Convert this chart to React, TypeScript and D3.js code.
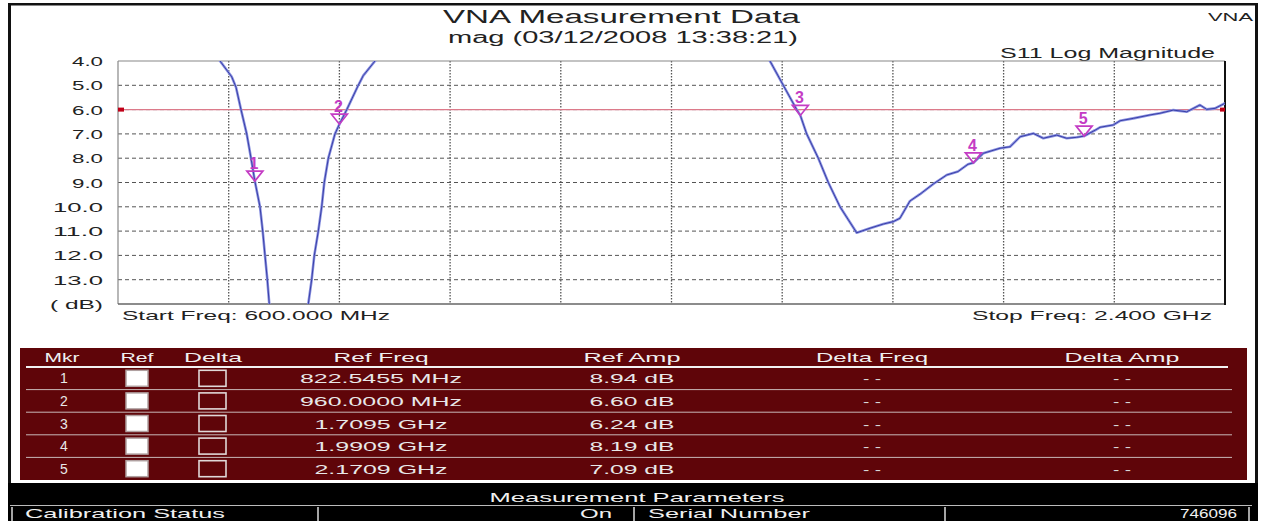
import React from "react";
import * as d3 from "d3";

// ---- Data ----
const freqMHz = [600, 700, 750, 765.9, 784.9, 791.9, 800.0, 809.3, 816.3, 822.5, 830.9, 835.3, 839.0, 842.8, 846.0, 876, 909.4, 914.9, 919.2, 925.7, 931.2, 935.4, 942.0, 952.8, 960.0, 972.0, 990.7, 998.8, 1017.9, 1040, 1300, 1500, 1640, 1660.1, 1681.8, 1703.6, 1709.5, 1719.8, 1738.7, 1755.0, 1774.0, 1801.1, 1822.8, 1844.4, 1860.6, 1871.5, 1887.8, 1904.1, 1925.7, 1947.5, 1965.8, 1982.1, 1990.9, 2006.9, 2034.1, 2050.4, 2066.7, 2088.3, 2104.6, 2126.4, 2142.6, 2158.9, 2170.9, 2188.6, 2196.7, 2218.4, 2229.3, 2250.9, 2278.0, 2294.3, 2315.9, 2337.7, 2359.3, 2370.2, 2383.7, 2400];
const s11dB = [0.8, 1.8, 3.2, 4.0, 4.65, 5.08, 6.0, 7.0, 8.0, 8.94, 10.0, 11.0, 12.0, 13.0, 14.0, 24, 14.0, 13.0, 12.0, 11.0, 10.0, 9.0, 8.0, 7.0, 6.6, 6.0, 5.0, 4.6, 4.0, 3.4, 2.0, 1.6, 3.4, 4.0, 5.0, 6.0, 6.24, 7.0, 8.0, 9.0, 10.0, 11.07, 10.88, 10.71, 10.61, 10.47, 9.76, 9.48, 9.06, 8.69, 8.55, 8.25, 8.19, 7.80, 7.59, 7.53, 7.12, 6.98, 7.18, 7.05, 7.18, 7.14, 7.09, 6.85, 6.73, 6.63, 6.46, 6.36, 6.22, 6.15, 6.02, 6.09, 5.81, 5.99, 5.95, 5.74];

const yTicks = [4, 5, 6, 7, 8, 9, 10, 11, 12, 13, 14];
const yTickLabels = ["4.0", "5.0", "6.0", "7.0", "8.0", "9.0", "10.0", "11.0", "12.0", "13.0", "( dB)"];
const xGrid = [600, 780, 960, 1140, 1320, 1500, 1680, 1860, 2040, 2220, 2400];
const refLevel = 6.0;

const markerIds = ["1", "2", "3", "4", "5"];
const markerFreq = [822.5455, 960.0, 1709.5, 1990.9, 2170.9];
const markerAmp = [8.94, 6.6, 6.24, 8.19, 7.09];
const markerFreqLabels = ["822.5455 MHz", "960.0000 MHz", "1.7095 GHz", "1.9909 GHz", "2.1709 GHz"];
const markerAmpLabels = ["8.94 dB", "6.60 dB", "6.24 dB", "8.19 dB", "7.09 dB"];
const tableHeaders = ["Mkr", "Ref", "Delta", "Ref Freq", "Ref Amp", "Delta Freq", "Delta Amp"];

const FONT = "'Liberation Sans', Arial, sans-serif";

type TP = { x: number; y: number; w?: number; anchor?: "start" | "middle" | "end"; size?: number; fill?: string; weight?: string | number; children: React.ReactNode };
const T = ({ x, y, w, anchor = "start", size = 13, fill = "#222", weight, children }: TP) => (
  <text x={x} y={y} fontFamily={FONT} fontSize={size} fill={fill} fontWeight={weight} textAnchor={anchor}
    {...(w ? { textLength: w, lengthAdjust: "spacingAndGlyphs" } : {})}>{children}</text>
);

export default function App() {
  const W = 1264, H = 521;
  const pl = 118, pr = 1225, pt = 61, pb = 304;
  const x = d3.scaleLinear().domain([600, 2400]).range([pl, pr]);
  const y = d3.scaleLinear().domain([4, 14]).range([pt, pb]);
  const line = d3.line<number>().x((_, i) => x(freqMHz[i])).y((v) => y(v));
  const path = line(s11dB) || "";

  // table layout
  const tl = 20, tr = 1247, tt = 348, tb = 480;
  const headerBottom = 367;
  const rowH = (tb - headerBottom) / 5;
  const colMkr = 62, colRef = 137, colDelta = 213, colRF = 381, colRA = 632, colDF = 872, colDA = 1122;
  const headerW = [35, 33, 58, 95, 97, 112, 115];
  const headerX = [colMkr, colRef, colDelta, colRF, colRA, colDF, colDA];

  return (
    <svg width={W} height={H} style={{ position: "absolute", left: 0, top: 0, background: "#fff" }}>
      <defs>
        <clipPath id="plotclip"><rect x={pl} y={pt} width={pr - pl} height={pb - pt} /></clipPath>
      </defs>
      <rect x={0} y={0} width={W} height={H} fill="#fff" />
      {/* outer frame */}
      <rect x={8} y={3} width={1250} height={2.5} fill="#111" />
      <rect x={8} y={3} width={3} height={H - 3} fill="#111" />
      <rect x={1255} y={3} width={3} height={H - 3} fill="#111" />

      {/* titles */}
      <T x={443} y={23} w={357} size={18}>VNA Measurement Data</T>
      <T x={448} y={43} w={350} size={16}>mag (03/12/2008 13:38:21)</T>
      <T x={1208} y={21} w={45} size={11}>VNA</T>
      <T x={1000} y={58} w={215} size={14}>S11 Log Magnitude</T>

      {/* grid */}
      {yTicks.slice(1, -1).map((t) => (
        <line key={"h" + t} x1={pl} x2={pr} y1={y(t)} y2={y(t)} stroke="#555" strokeWidth={1} strokeDasharray="4,3" />
      ))}
      {xGrid.slice(1, -1).map((f) => (
        <line key={"v" + f} x1={x(f)} x2={x(f)} y1={pt} y2={pb} stroke="#555" strokeWidth={1.3} strokeDasharray="1.5,1.5" />
      ))}
      {/* plot border */}
      <line x1={pl} x2={pr} y1={pt} y2={pt} stroke="#888" strokeWidth={1.2} />
      <line x1={pl} x2={pl} y1={pt} y2={pb} stroke="#888" strokeWidth={1.2} />
      <line x1={pl} x2={pr} y1={pb} y2={pb} stroke="#666" strokeWidth={1.5} />
      <line x1={pr} x2={pr} y1={pt} y2={pb + 1} stroke="#111" strokeWidth={2} />

      {/* y labels */}
      {yTicks.map((t, i) => (
        <T key={"yl" + t} x={103} y={y(t) + 5} anchor="end" w={yTickLabels[i].length === 3 ? 31 : yTickLabels[i].length === 4 ? 50 : 53} size={13}>
          {yTickLabels[i]}
        </T>
      ))}

      {/* reference line */}
      <line x1={pl} x2={pr} y1={y(refLevel)} y2={y(refLevel)} stroke="#dc7a8a" strokeWidth={1.2} />
      <rect x={pl} y={y(refLevel) - 2} width={6} height={4} fill="#c00018" />
      <rect x={pr - 5} y={y(refLevel) - 2} width={5} height={4} fill="#c00018" />

      {/* trace */}
      <g clipPath="url(#plotclip)">
        <path d={path} fill="none" stroke="#8a92e0" strokeWidth={2.6} strokeLinejoin="round" />
        <path d={path} fill="none" stroke="#3a3fa8" strokeWidth={1} strokeLinejoin="round" />
      </g>

      {/* markers */}
      {markerIds.map((id, i) => {
        const mx = x(markerFreq[i]);
        const my = y(markerAmp[i]);
        return (
          <g key={"m" + id}>
            <path d={`M${mx - 8},${my - 10} L${mx + 8},${my - 10} L${mx},${my} Z`} fill="none" stroke="#c43cc4" strokeWidth={1.7} />
            <T x={mx - 1} y={my - 12} anchor="middle" size={16} fill="#c43cc4" weight="bold">{id}</T>
          </g>
        );
      })}

      <T x={122} y={320} w={268} size={13}>Start Freq: 600.000 MHz</T>
      <T x={1212} y={320} w={240} anchor="end" size={13}>Stop Freq: 2.400 GHz</T>

      {/* marker table */}
      <rect x={tl} y={tt} width={tr - tl} height={tb - tt} fill="#5f0509" />
      <line x1={26} x2={1228} y1={headerBottom} y2={headerBottom} stroke="#f2f2f2" strokeWidth={2} />
      {headerX.map((cx, i) => (
        <T key={"th" + i} x={cx} y={362} anchor="middle" w={headerW[i]} size={13} fill="#f0f0f0">{tableHeaders[i]}</T>
      ))}
      {markerIds.map((id, i) => {
        const r0 = headerBottom + rowH * i;
        const cy = r0 + rowH / 2;
        return (
          <g key={"row" + id}>
            {i < 4 && <line x1={26} x2={1232} y1={r0 + rowH} y2={r0 + rowH} stroke="#c8b8b8" strokeWidth={1} />}
            <T x={colMkr + 2} y={cy + 5} anchor="middle" size={14} fill="#e8e8e8">{id}</T>
            <rect x={126} y={cy - 8} width={22} height={16} fill="#ffffff" stroke="#b0a0a0" strokeWidth={1.5} />
            <rect x={199} y={cy - 8} width={27} height={16} fill="none" stroke="#e0d8d8" strokeWidth={1.6} />
            <T x={colRF} y={cy + 5} anchor="middle" w={markerFreqLabels[i].length > 10 ? 162 : 133} size={13} fill="#e8e8e8">{markerFreqLabels[i]}</T>
            <T x={colRA} y={cy + 5} anchor="middle" w={85} size={13} fill="#e8e8e8">{markerAmpLabels[i]}</T>
            <T x={colDF} y={cy + 5} anchor="middle" w={18} size={13} fill="#d8d8d8">- -</T>
            <T x={colDA} y={cy + 5} anchor="middle" w={18} size={13} fill="#d8d8d8">- -</T>
          </g>
        );
      })}

      {/* measurement parameters band */}
      <rect x={8} y={483} width={1250} height={H - 483} fill="#000" />
      <T x={637} y={502} anchor="middle" w={295} size={13} fill="#f0f0f0">Measurement Parameters</T>
      <line x1={10} x2={1252} y1={505.5} y2={505.5} stroke="#bbb" strokeWidth={1} />
      {[12, 318, 634, 945, 1249].map((vx) => (
        <line key={"vb" + vx} x1={vx} x2={vx} y1={507} y2={521} stroke="#ddd" strokeWidth={1.5} />
      ))}
      <T x={25} y={518} w={200} size={13} fill="#f0f0f0">Calibration Status</T>
      <T x={612} y={518} anchor="end" w={32} size={13} fill="#f0f0f0">On</T>
      <T x={648} y={518} w={162} size={13} fill="#f0f0f0">Serial Number</T>
      <T x={1237} y={518} anchor="end" w={57} size={13} fill="#f0f0f0">746096</T>
    </svg>
  );
}
